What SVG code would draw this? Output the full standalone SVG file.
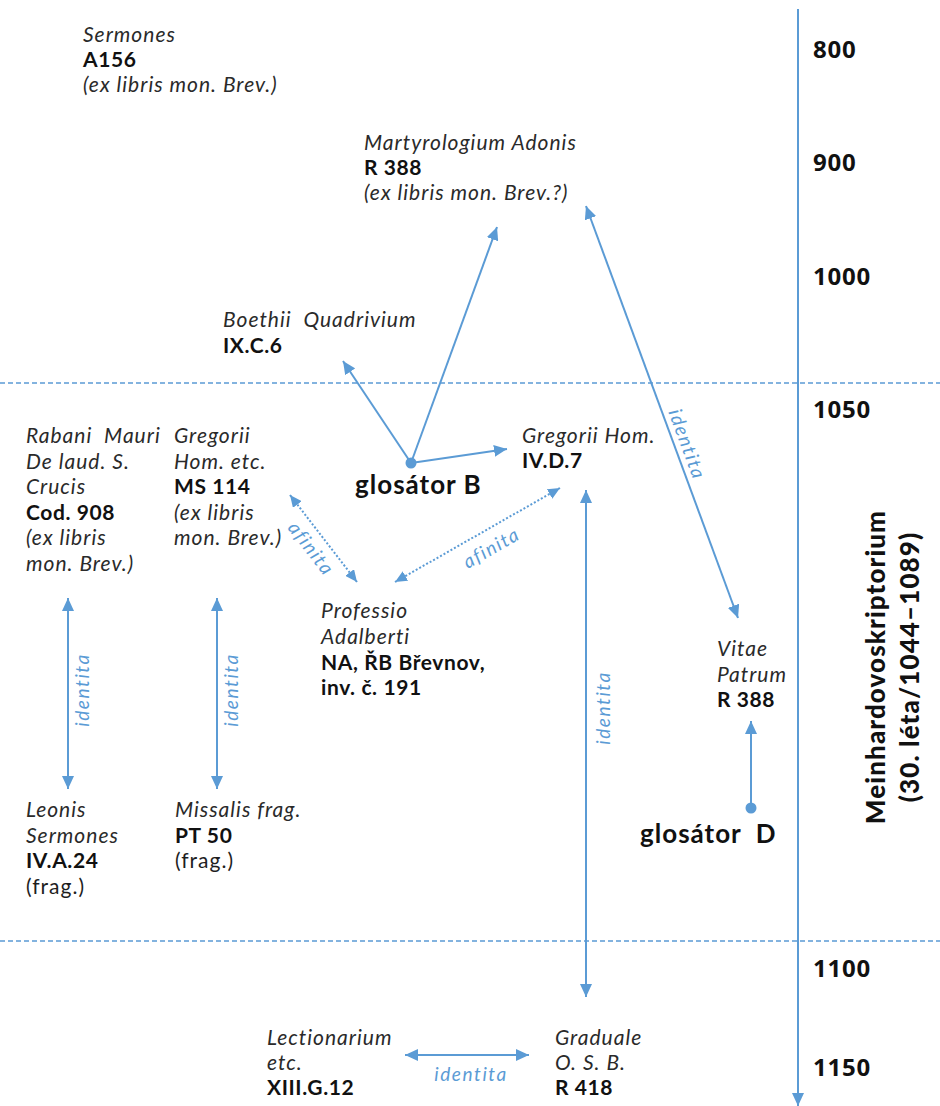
<svg xmlns="http://www.w3.org/2000/svg" width="940" height="1106" viewBox="0 0 940 1106">
  <style>
    .t { font-family: Lato, "Open Sans", "Liberation Sans", sans-serif; font-size: 21px; letter-spacing: 1px; fill: #1e1e1e; }
    .i { font-style: italic; fill: #2a2a2a; }
    .b { font-weight: bold; fill: #111; letter-spacing: 0.6px; }
    .g { font-family: Lato, "Liberation Sans", sans-serif; font-size: 26px; letter-spacing: 1px; font-weight: bold; fill: #111; }
    .yr { font-family: "Open Sans", "DejaVu Sans", sans-serif; font-size: 24px; letter-spacing: 0.8px; font-weight: bold; fill: #111; }
    .vt { font-family: Lato, "Liberation Sans", sans-serif; font-size: 26px; letter-spacing: 1.1px; font-weight: 900; fill: #111; text-anchor: middle; }
    .lbl { font-family: Lato, "Liberation Sans", sans-serif; font-size: 19px; letter-spacing: 1.6px; font-style: italic; fill: #5b9bd5; }
    .ln { stroke: #5b9bd5; stroke-width: 2; fill: none; }
    .dot { stroke: #5b9bd5; stroke-width: 2; stroke-dasharray: 2 2; fill: none; }
    .era { stroke: #5b9bd5; stroke-width: 1.6; stroke-dasharray: 5 3; fill: none; }
  </style>
  <defs>
    <marker id="ah" markerUnits="userSpaceOnUse" markerWidth="14" markerHeight="12" refX="13" refY="6" orient="auto-start-reverse">
      <path d="M0,0 L13,6 L0,12 z" fill="#5b9bd5"/>
    </marker>
    <marker id="ahs" markerUnits="userSpaceOnUse" markerWidth="13" markerHeight="11" refX="12" refY="5.5" orient="auto-start-reverse">
      <path d="M0,0 L12,5.5 L0,11 z" fill="#5b9bd5"/>
    </marker>
  </defs>

  <rect width="940" height="1106" fill="#ffffff"/>

  <!-- period boundaries and time axis -->
  <g id="axis">
    <line class="era" x1="0" y1="383" x2="940" y2="383"/>
    <line class="era" x1="0" y1="941" x2="940" y2="941"/>
    <line class="ln" x1="798" y1="9" x2="798" y2="1106" stroke-width="2.5" marker-end="url(#ah)"/>
    <text class="yr" x="813" y="58">800</text>
    <text class="yr" x="813" y="171">900</text>
    <text class="yr" x="813" y="285">1000</text>
    <text class="yr" x="813" y="418">1050</text>
    <text class="yr" x="813" y="977">1100</text>
    <text class="yr" x="813" y="1076">1150</text>
    <g transform="translate(0,667) rotate(-90)">
      <text class="vt" x="0" y="885">Meinhardovoskriptorium</text>
      <text class="vt" x="0" y="919">(30. léta/1044–1089)</text>
    </g>
  </g>

  <!-- connectors -->
  <g id="connectors">
    <line class="ln" x1="411" y1="463" x2="343" y2="361" marker-end="url(#ah)"/>
    <line class="ln" x1="411" y1="463" x2="497" y2="227" marker-end="url(#ah)"/>
    <line class="ln" x1="411" y1="463" x2="507" y2="449" marker-end="url(#ah)"/>
    <line class="ln" x1="586" y1="206" x2="738" y2="618" marker-start="url(#ah)" marker-end="url(#ah)"/>
    <line class="ln" x1="586" y1="490" x2="586" y2="997" marker-start="url(#ah)" marker-end="url(#ah)"/>
    <line class="ln" x1="68" y1="598" x2="68" y2="789" marker-start="url(#ah)" marker-end="url(#ah)"/>
    <line class="ln" x1="217" y1="598" x2="217" y2="789" marker-start="url(#ah)" marker-end="url(#ah)"/>
    <line class="ln" x1="405" y1="1055" x2="529" y2="1055" marker-start="url(#ah)" marker-end="url(#ah)"/>
    <line class="ln" x1="751" y1="808" x2="751" y2="721" marker-end="url(#ah)"/>
    <line class="dot" x1="290" y1="495" x2="357" y2="582" marker-start="url(#ahs)" marker-end="url(#ahs)"/>
    <line class="dot" x1="560" y1="488" x2="395" y2="582" marker-start="url(#ahs)" marker-end="url(#ahs)"/>
    <circle cx="411" cy="463" r="5.5" fill="#5b9bd5"/>
    <circle cx="751" cy="808" r="5.5" fill="#5b9bd5"/>

    <text class="lbl" text-anchor="middle" dominant-baseline="central" transform="translate(688,444) rotate(69.8)">identita</text>
    <text class="lbl" text-anchor="middle" dominant-baseline="central" transform="translate(602,708) rotate(-90)">identita</text>
    <text class="lbl" text-anchor="middle" dominant-baseline="central" transform="translate(81,690) rotate(-90)">identita</text>
    <text class="lbl" text-anchor="middle" dominant-baseline="central" transform="translate(230,690) rotate(-90)">identita</text>
    <text class="lbl" text-anchor="middle" x="471" y="1081">identita</text>
    <text class="lbl" text-anchor="middle" dominant-baseline="central" transform="translate(312,548) rotate(52.4)">afinita</text>
    <text class="lbl" text-anchor="middle" dominant-baseline="central" transform="translate(491,547) rotate(-29.7)">afinita</text>
  </g>

  <!-- manuscripts and glossators -->
  <g id="sermones-a156">
    <text class="t i" x="83" y="42">Sermones</text>
    <text class="t b" x="83" y="67">A156</text>
    <text class="t i" x="83" y="92">(ex libris mon. Brev.)</text>
  </g>
  <g id="martyrologium">
    <text class="t i" x="364" y="150">Martyrologium Adonis</text>
    <text class="t b" x="364" y="175">R 388</text>
    <text class="t i" x="364" y="200">(ex libris mon. Brev.?)</text>
  </g>
  <g id="boethii">
    <text class="t i" x="223" y="327" xml:space="preserve">Boethii  Quadrivium</text>
    <text class="t b" x="223" y="353">IX.C.6</text>
  </g>
  <g id="glosator-b">
    <text class="g" x="355" y="494">glosátor B</text>
  </g>
  <g id="gregorii-ivd7">
    <text class="t i" x="522" y="443">Gregorii Hom.</text>
    <text class="t b" x="522" y="468">IV.D.7</text>
  </g>
  <g id="rabani">
    <text class="t i" x="26" y="443" xml:space="preserve">Rabani  Mauri</text>
    <text class="t i" x="26" y="469">De laud. S.</text>
    <text class="t i" x="26" y="494">Crucis</text>
    <text class="t b" x="26" y="520">Cod. 908</text>
    <text class="t i" x="26" y="545">(ex libris</text>
    <text class="t i" x="26" y="571">mon. Brev.)</text>
  </g>
  <g id="gregorii-ms114">
    <text class="t i" x="174" y="443">Gregorii</text>
    <text class="t i" x="174" y="469">Hom. etc.</text>
    <text class="t b" x="174" y="494">MS 114</text>
    <text class="t i" x="174" y="520">(ex libris</text>
    <text class="t i" x="174" y="545">mon. Brev.)</text>
  </g>
  <g id="professio">
    <text class="t i" x="321" y="618">Professio</text>
    <text class="t i" x="321" y="644">Adalberti</text>
    <text class="t b" x="321" y="670">NA, ŘB Břevnov,</text>
    <text class="t b" x="321" y="695">inv. č. 191</text>
  </g>
  <g id="vitae-patrum">
    <text class="t i" x="717" y="656">Vitae</text>
    <text class="t i" x="717" y="682">Patrum</text>
    <text class="t b" x="717" y="707">R 388</text>
  </g>
  <g id="glosator-d">
    <text class="g" x="640" y="843" xml:space="preserve">glosátor  D</text>
  </g>
  <g id="leonis">
    <text class="t i" x="26" y="817">Leonis</text>
    <text class="t i" x="26" y="843">Sermones</text>
    <text class="t b" x="26" y="868">IV.A.24</text>
    <text class="t" x="26" y="894">(frag.)</text>
  </g>
  <g id="missalis">
    <text class="t i" x="175" y="817">Missalis frag.</text>
    <text class="t b" x="175" y="843">PT 50</text>
    <text class="t" x="175" y="868">(frag.)</text>
  </g>
  <g id="lectionarium">
    <text class="t i" x="267" y="1045">Lectionarium</text>
    <text class="t i" x="267" y="1070">etc.</text>
    <text class="t b" x="267" y="1095">XIII.G.12</text>
  </g>
  <g id="graduale">
    <text class="t i" x="555" y="1045">Graduale</text>
    <text class="t i" x="555" y="1070">O. S. B.</text>
    <text class="t b" x="555" y="1095">R 418</text>
  </g>
</svg>
